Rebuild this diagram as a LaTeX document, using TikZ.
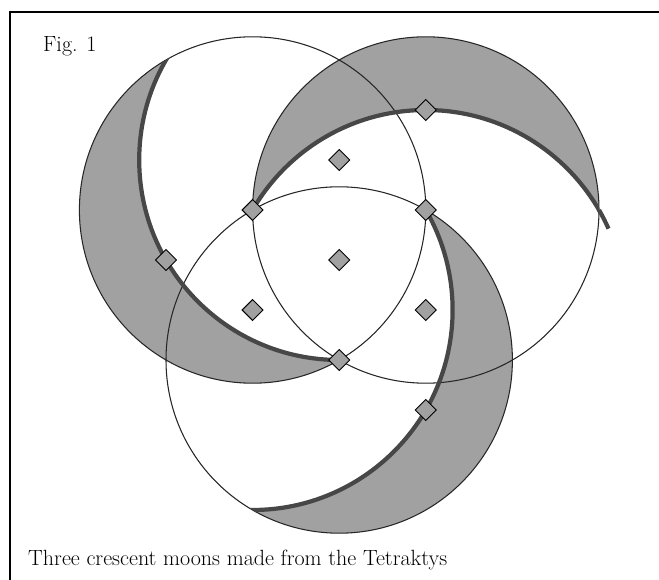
\documentclass[tikz,border=0pt]{standalone}
\usepackage{tikz}
\usetikzlibrary{shapes.geometric,calc}
\definecolor{moongray}{gray}{0.63}

\begin{document}
\begin{tikzpicture}[x=0.03cm,y=0.03cm,
  dot/.style={diamond,draw=black,fill=moongray,line width=0.8pt,inner sep=0pt,minimum width=0.64cm,minimum height=0.64cm},
  ring/.style={draw=black!85,line width=0.9pt},
  rim/.style={draw=black!72,line width=3.6pt},
  moon/.style={fill=moongray},
  label/.style={anchor=base west,inner sep=0pt,font=\fontsize{18.8}{20}\selectfont}]
  \useasboundingbox (0,0) rectangle (659,580);
  % frame
  \draw[line width=1.6pt] (659,568)--(10,568)--(10,0);
  % tetraktys points
  \foreach \k in {0,...,3}
    \foreach \j in {0,...,\k}
      \coordinate (p\k\j) at ({166+86.6*\k},{320+50*\k-100*\j});
  % crescents
  \foreach \o/\i in {p31/p32,p10/p20,p22/p11}{
    \begin{scope}
      \clip (\o) circle[radius=173.2];
      \fill[moon,even odd rule] (\o) circle[radius=173.2] (\i) circle[radius=200];
    \end{scope}
  }
  \foreach \o in {p10,p31,p22} \draw[ring] (\o) circle[radius=173.2];
  \foreach \o/\i in {p31/p32,p10/p20,p22/p11}{
    \begin{scope}
      \clip (\o) circle[radius=173.2];
      \draw[rim] (\i) circle[radius=200];
    \end{scope}
  }
  \draw[rim] ($(p32)+(30:200)$) arc[start angle=30,end angle=24,radius=200];
  % diamonds
  \foreach \k in {0,...,3}
    \foreach \j in {0,...,\k}
      \node[dot] (t\k\j) at (p\k\j) {};
  \node[label] (fig) at (43,528) {Fig. 1};
  \node[label] (caption) at (28,14) {Three crescent moons made from the Tetraktys};
\end{tikzpicture}
\end{document}
